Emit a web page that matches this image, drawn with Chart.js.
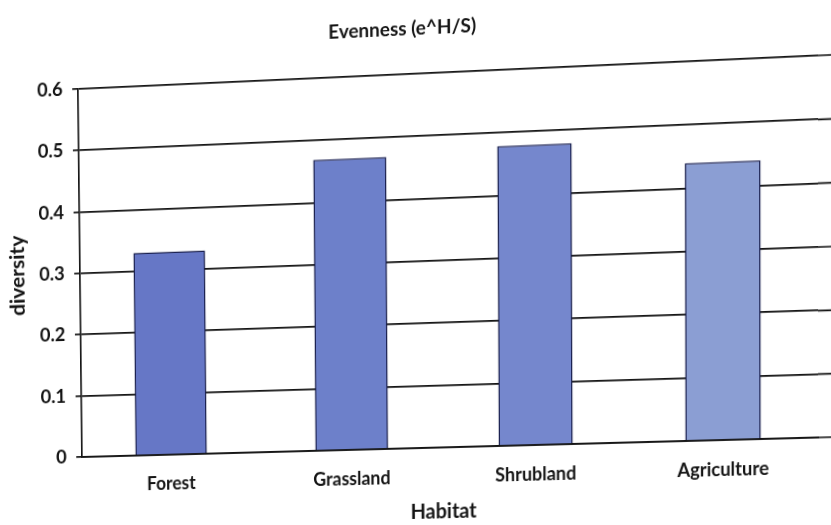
<!DOCTYPE html>
<html>
<head>
<meta charset="utf-8">
<script src="https://cdn.jsdelivr.net/npm/chart.js@4/dist/chart.umd.min.js"></script>
<style>
  html, body { margin: 0; padding: 0; background: #fff; overflow: hidden; width: 831px; height: 525px; }
  #wrap { position: absolute; left: 0; top: 0; width: 860px; height: 540px; transform-origin: 0 0; }
  canvas { display: block; }
</style>
</head>
<body>
<div id="wrap"><canvas id="c" width="860" height="540"></canvas></div>
<script>
// Evenness by habitat
const habitats = ['Forest', 'Grassland', 'Shrubland', 'Agriculture'];
const evenness = [0.33, 0.469, 0.479, 0.44];
const yTicks = [0, 0.1, 0.2, 0.3, 0.4, 0.5, 0.6];

const barColors = ['#6677c6', '#6d80ca', '#7587cd', '#8b9ed3'];
const ink = '#141414';
const FONT = 'Lato, "Open Sans", sans-serif';

// Carry the horizontal grid lines past the right edge of the plot area
const extendGrid = {
  id: 'extendGrid',
  beforeDatasetsDraw(chart) {
    const { ctx, chartArea, scales } = chart;
    ctx.save();
    ctx.strokeStyle = ink;
    ctx.lineWidth = 1.7;
    ctx.beginPath();
    yTicks.forEach(v => {
      const y = scales.y.getPixelForValue(v);
      ctx.moveTo(chartArea.right, y);
      ctx.lineTo(chart.width, y);
    });
    ctx.stroke();
    ctx.restore();
  }
};

new Chart(document.getElementById('c'), {
  type: 'bar',
  data: {
    labels: habitats,
    datasets: [{
      label: 'diversity',
      data: evenness,
      backgroundColor: barColors,
      borderColor: '#1b2150',
      borderWidth: 1.5,
      categoryPercentage: 1,
      barPercentage: 0.4
    }]
  },
  plugins: [extendGrid],
  options: {
    responsive: false,
    animation: false,
    layout: { padding: { left: 0, right: 42, top: 0, bottom: 0 } },
    plugins: {
      legend: { display: false },
      tooltip: { enabled: false },
      title: {
        display: true,
        text: 'Evenness (e^H/S)',
        color: ink,
        font: { family: FONT, size: 19, weight: 'bold' },
        padding: { top: 33, bottom: 33.2 }
      }
    },
    scales: {
      x: {
        grid: { display: false, drawTicks: false },
        border: { display: true, color: ink, width: 1.7 },
        ticks: { color: ink, font: { family: FONT, size: 18, weight: 'bold' }, padding: 18 },
        title: {
          display: true,
          text: 'Habitat',
          color: ink,
          font: { family: FONT, size: 20, weight: 'bold' },
          padding: { top: 0, bottom: 7 }
        },
        afterFit(scale) { scale.height = 83; }
      },
      y: {
        min: 0,
        max: 0.6,
        afterBuildTicks(scale) { scale.ticks = yTicks.map(v => ({ value: v })); },
        grid: { color: ink, lineWidth: 1.7, tickLength: 6, tickColor: ink },
        border: { display: true, color: ink, width: 1.7 },
        ticks: { color: ink, font: { family: FONT, size: 19, weight: 'bold' }, padding: 10,
                 callback: v => String(v) },
        title: {
          display: true,
          text: 'diversity',
          color: ink,
          font: { family: FONT, size: 21, weight: 'bold' },
          padding: { top: 1, bottom: 0 }
        },
        afterFit(scale) { scale.width = 78; }
      }
    }
  }
});

// Perspective of the printed page: map the plot rectangle onto its tilted outline
function homography(src, dst) {
  const A = [], b = [];
  for (let i = 0; i < 4; i++) {
    const [x, y] = src[i], [u, v] = dst[i];
    A.push([x, y, 1, 0, 0, 0, -x * u, -y * u]); b.push(u);
    A.push([0, 0, 0, x, y, 1, -x * v, -y * v]); b.push(v);
  }
  const n = 8;
  for (let c = 0; c < n; c++) {
    let p = c;
    for (let r = c + 1; r < n; r++) if (Math.abs(A[r][c]) > Math.abs(A[p][c])) p = r;
    [A[c], A[p]] = [A[p], A[c]]; [b[c], b[p]] = [b[p], b[c]];
    for (let r = 0; r < n; r++) {
      if (r === c) continue;
      const f = A[r][c] / A[c][c];
      for (let k = c; k < n; k++) A[r][k] -= f * A[c][k];
      b[r] -= f * b[c];
    }
  }
  return b.map((val, i) => val / A[i][i]);
}
const h = homography(
  [[78, 89], [78, 457], [818, 89], [818, 457]],
  [[78, 89], [82, 457], [818, 55.5], [818, 437.5]]
);
const [a, bb, c, d, e, f, g, hh] = h;
document.getElementById('wrap').style.transform =
  `matrix3d(${a},${d},0,${g},${bb},${e},0,${hh},0,0,1,0,${c},${f},0,1)`;
</script>
</body>
</html>
